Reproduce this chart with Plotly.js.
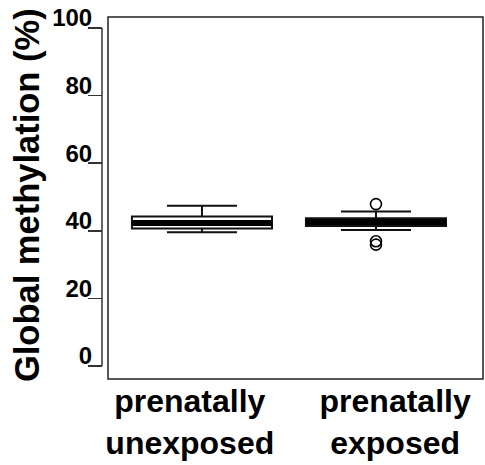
<!DOCTYPE html>
<html>
<head>
<meta charset="utf-8">
<script src="https://cdn.plot.ly/plotly-3.0.1.min.js"></script>
<style>
  html, body { margin: 0; padding: 0; background: #fff; }
  #chart { width: 485px; height: 465px; }
</style>
</head>
<body>
<div id="chart"></div>
<script>
// ---- data ----
const categories = ['prenatally unexposed', 'prenatally exposed'];
const groupIndex = [1, 2];
const q1Values = [40.7, 41.4];
const medianValues = [42.3, 42.6];
const q3Values = [44.2, 43.7];
const lowerWhisker = [39.6, 40.2];
const upperWhisker = [47.4, 45.7];
const outlierGroup = [2, 2, 2];
const outlierValues = [47.9, 36.9, 35.9];
const yTickValues = [0, 20, 40, 60, 80, 100];
const yTitle = 'Global methylation (%)';

// ---- styling / layout ----
const FONT = 'Liberation Sans, Arial, Helvetica, sans-serif';
const boxWidth = 0.805;
const labelPos = [0.93, 2.11];

const traces = [
  {
    type: 'box',
    x: groupIndex,
    q1: q1Values,
    median: medianValues,
    q3: q3Values,
    lowerfence: lowerWhisker,
    upperfence: upperWhisker,
    width: boxWidth,
    whiskerwidth: 0.5,
    boxpoints: false,
    fillcolor: '#ffffff',
    line: { color: '#111111', width: 2 },
    hoverinfo: 'skip',
    showlegend: false
  },
  {
    // thick median band
    type: 'box',
    x: groupIndex,
    q1: medianValues,
    median: medianValues,
    q3: medianValues,
    lowerfence: medianValues,
    upperfence: medianValues,
    width: boxWidth,
    whiskerwidth: 0,
    boxpoints: false,
    fillcolor: 'rgba(0,0,0,0)',
    line: { color: '#000000', width: 6 },
    hoverinfo: 'skip',
    showlegend: false
  },
  {
    type: 'scatter',
    mode: 'markers',
    x: outlierGroup,
    y: outlierValues,
    marker: { symbol: 'circle-open', size: 11, color: '#000', line: { width: 1.6, color: '#000' } },
    hoverinfo: 'skip',
    showlegend: false
  }
];

const layout = {
  width: 485,
  height: 465,
  margin: { l: 102, r: 2, t: 17, b: 86 },
  paper_bgcolor: '#fff',
  plot_bgcolor: '#fff',
  boxmode: 'overlay',
  showlegend: false,
  font: { family: FONT, color: '#000' },
  xaxis: {
    domain: [6 / 381, 1],
    range: [0.46, 2.615],
    showgrid: false,
    zeroline: false,
    showline: false,
    ticks: '',
    tickvals: labelPos,
    ticktext: categories.map(c => c.replace(' ', '<br>')),
    tickfont: { family: FONT, size: 32, weight: 'bold', color: '#000' },
    fixedrange: true
  },
  yaxis: {
    anchor: 'free',
    position: 0,
    range: [-3.85, 103.25],
    showgrid: false,
    zeroline: false,
    showline: false,
    tickvals: yTickValues,
    ticktext: yTickValues.map(String),
    ticks: 'outside',
    ticklen: 14,
    tickwidth: 1.5,
    tickcolor: '#333',
    ticklabelstandoff: -9,
    ticklabelshift: -10,
    tickfont: { family: FONT, size: 24, weight: 'bold', color: '#000' },
    fixedrange: true
  },
  shapes: [
    { type: 'rect', xref: 'x domain', yref: 'y domain', x0: 0, x1: 1, y0: 0, y1: 1,
      line: { color: '#222', width: 1.5 }, fillcolor: 'rgba(0,0,0,0)' },
    { type: 'line', xref: 'paper', yref: 'y', x0: 0, x1: 0, y0: yTickValues[0], y1: yTickValues[yTickValues.length - 1],
      line: { color: '#333', width: 1.5 } }
  ],
  annotations: [
    { text: yTitle, xref: 'paper', yref: 'paper', x: (27 - 102) / 381, y: 0.508,
      xanchor: 'center', yanchor: 'middle', textangle: -90, showarrow: false,
      font: { family: FONT, size: 34.5, weight: 'bold', color: '#000' } }
  ]
};

Plotly.newPlot('chart', traces, layout, { displayModeBar: false, staticPlot: true });
</script>
</body>
</html>
